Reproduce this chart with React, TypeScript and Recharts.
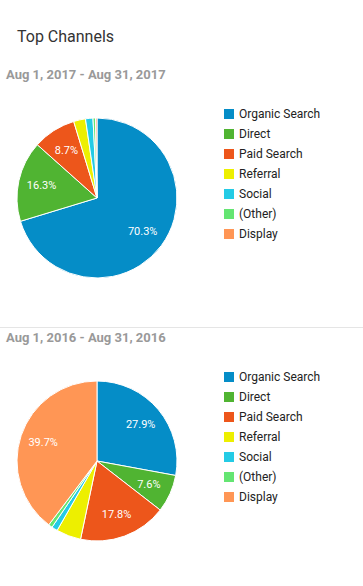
import React from "react";
import { PieChart, Pie, Cell } from "recharts";

const channels = ["Organic Search", "Direct", "Paid Search", "Referral", "Social", "(Other)", "Display"];
const colors = ["#058dc7", "#50b432", "#ed561b", "#edef00", "#24cbe5", "#64e572", "#ff9655"];
const share2017 = [70.3, 16.3, 8.7, 2.4, 1.5, 0.5, 0.3];
const share2016 = [27.9, 7.6, 17.8, 5.0, 1.2, 0.8, 39.7];
const period2017 = "Aug 1, 2017 - Aug 31, 2017";
const period2016 = "Aug 1, 2016 - Aug 31, 2016";

const FONT = "Roboto, Arial, sans-serif";
const RAD = Math.PI / 180;

const renderLabel = (p: any) => {
  if (p.value < 7) return null;
  const r = p.outerRadius * 0.71;
  const x = p.cx + r * Math.cos(-p.midAngle * RAD);
  const y = p.cy + r * Math.sin(-p.midAngle * RAD);
  return (
    <text x={x} y={y} fill="#fff" fontSize={11} fontFamily={FONT} textAnchor="middle" dominantBaseline="central">
      {p.value.toFixed(1) + "%"}
    </text>
  );
};

function ChannelPie({ values, top }: { values: number[]; top: number }) {
  const data = channels.map((name, i) => ({ name, value: values[i] }));
  return (
    <div style={{ position: "absolute", left: 0, top }}>
      <PieChart width={200} height={180} margin={{ top: 0, right: 0, bottom: 0, left: 0 }}>
        <Pie
          data={data}
          dataKey="value"
          cx={97}
          cy={90}
          outerRadius={80}
          startAngle={90}
          endAngle={-270}
          stroke="#fff"
          strokeWidth={1}
          label={renderLabel}
          labelLine={false}
          isAnimationActive={false}
        >
          {data.map((d, i) => (
            <Cell key={d.name} fill={colors[i]} />
          ))}
        </Pie>
      </PieChart>
    </div>
  );
}

function Legend({ top }: { top: number }) {
  return (
    <div style={{ position: "absolute", left: 224, top }}>
      {channels.map((c, i) => (
        <div key={c} style={{ display: "flex", alignItems: "center", height: 20 }}>
          <div style={{ width: 10, height: 10, background: colors[i], marginRight: 5 }} />
          <span style={{ fontSize: 12, color: "#222", fontFamily: FONT }}>{c}</span>
        </div>
      ))}
    </div>
  );
}

export default function App() {
  return (
    <div style={{ position: "absolute", left: 0, top: 0, width: 363, height: 586, background: "#fff", fontFamily: FONT }}>
      <div style={{ position: "absolute", left: 17, top: 27, fontSize: 16, color: "#333" }}>Top Channels</div>
      <div style={{ position: "absolute", left: 6, top: 67, fontSize: 13, fontWeight: 700, color: "#999" }}>{period2017}</div>
      <ChannelPie values={share2017} top={108} />
      <Legend top={104} />
      <div style={{ position: "absolute", left: 0, top: 327, width: 363, height: 1, background: "#e5e5e5" }} />
      <div style={{ position: "absolute", left: 6, top: 330, fontSize: 13, fontWeight: 700, color: "#999" }}>{period2016}</div>
      <ChannelPie values={share2016} top={371} />
      <Legend top={367} />
    </div>
  );
}
